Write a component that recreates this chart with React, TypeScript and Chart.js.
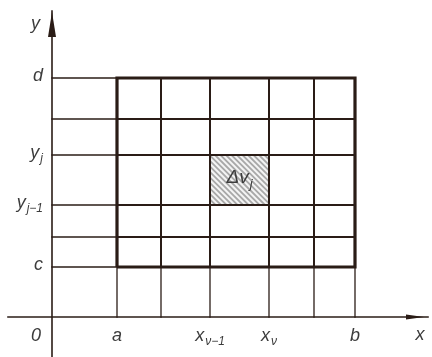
import React, { useEffect, useRef } from "react";
import { Chart, registerables } from "chart.js";

Chart.register(...registerables);

// grid positions (data units): a ... b and c ... d
const xGrid = [6.5, 10.9, 15.8, 21.7, 26.2, 30.3];
const yGrid = [5.0, 8.0, 11.2, 16.2, 19.8, 23.9];
// axis extents
const xAxisExtent = [-4.4, 37.6];
const yAxisExtent = [-4.0, 30.6];
// view window
const xView = [-5.2, 38.0];
const yView = [-4.0, 31.7];
// tick labels: [value, main, subscript]
const xTickValues = [0, xGrid[0], xGrid[2], xGrid[3], xGrid[5]];
const xTickMain = ["0", "a", "x", "x", "b"];
const xTickSub = ["", "", "ν−1", "ν", ""];
const yTickValues = [yGrid[5], yGrid[3], yGrid[2], yGrid[0]];
const yTickMain = ["d", "y", "y", "c"];
const yTickSub = ["", "j", "j−1", ""];
// hatched cell indices (between grid lines)
const cellX = [2, 3];
const cellY = [2, 3];
const cellMain = "Δv";
const cellSub = "j";

const INK = "#2a1c16";
const TEXT = "#3c3c3c";

function seg(x1: number, y1: number, x2: number, y2: number, w: number) {
  return {
    data: [
      { x: x1, y: y1 },
      { x: x2, y: y2 },
    ],
    showLine: true,
    borderColor: INK,
    borderWidth: w,
    pointRadius: 0,
    borderCapStyle: "square" as const,
  };
}

function drawLabel(ctx: CanvasRenderingContext2D, main: string, sub: string, x: number, y: number, align: "center" | "right", size = 18) {
  const mainFont = `italic ${size}px "Liberation Sans", "DejaVu Sans", sans-serif`;
  const subFont = `italic ${Math.round(size * 0.67)}px "Liberation Sans", "DejaVu Sans", sans-serif`;
  ctx.font = mainFont;
  const mw = ctx.measureText(main).width;
  ctx.font = subFont;
  const sw = sub ? ctx.measureText(sub).width + 1 : 0;
  const total = mw + sw;
  const left = align === "center" ? x - total / 2 : x - total;
  ctx.fillStyle = TEXT;
  ctx.textBaseline = "middle";
  ctx.textAlign = "left";
  ctx.font = mainFont;
  ctx.fillText(main, left, y);
  if (sub) {
    ctx.font = subFont;
    ctx.fillText(sub, left + mw + 1, y + 6);
  }
}

const diagramPlugin = {
  id: "diagram",
  beforeDatasetsDraw(chart: any) {
    const ctx: CanvasRenderingContext2D = chart.ctx;
    const xs = chart.scales.x;
    const ys = chart.scales.y;
    const l = xs.getPixelForValue(xGrid[cellX[0]]);
    const r = xs.getPixelForValue(xGrid[cellX[1]]);
    const t = ys.getPixelForValue(yGrid[cellY[1]]);
    const b = ys.getPixelForValue(yGrid[cellY[0]]);
    ctx.save();
    ctx.beginPath();
    ctx.rect(l, t, r - l, b - t);
    ctx.clip();
    ctx.fillStyle = "#f4f4f4";
    ctx.fillRect(l, t, r - l, b - t);
    ctx.strokeStyle = "#a8a8a8";
    ctx.lineWidth = 1.8;
    const h = b - t;
    for (let k = -h; k < r - l + h; k += 5.5) {
      ctx.beginPath();
      ctx.moveTo(l + k, t);
      ctx.lineTo(l + k + h, b);
      ctx.stroke();
    }
    ctx.restore();
  },
  afterDatasetsDraw(chart: any) {
    const ctx: CanvasRenderingContext2D = chart.ctx;
    const xs = chart.scales.x;
    const ys = chart.scales.y;
    ctx.save();
    // arrows
    const x0 = xs.getPixelForValue(0);
    const y0 = ys.getPixelForValue(0);
    const yTop = ys.getPixelForValue(yAxisExtent[1]);
    const xRight = xs.getPixelForValue(xAxisExtent[1]);
    ctx.fillStyle = INK;
    ctx.beginPath();
    ctx.moveTo(x0, yTop + 1);
    ctx.lineTo(x0 - 4, yTop + 26);
    ctx.lineTo(x0 + 4, yTop + 26);
    ctx.closePath();
    ctx.fill();
    ctx.beginPath();
    ctx.moveTo(xRight - 4, y0);
    ctx.lineTo(xRight - 22, y0 - 2.5);
    ctx.lineTo(xRight - 22, y0 + 2.5);
    ctx.closePath();
    ctx.fill();
    // axis names
    drawLabel(ctx, "y", "", x0 - 12, yTop + 13, "right");
    drawLabel(ctx, "x", "", xRight - 8, y0 + 18, "center");
    // x tick labels
    for (let i = 0; i < xTickValues.length; i++) {
      const px = xs.getPixelForValue(xTickValues[i]);
      drawLabel(ctx, xTickMain[i], xTickSub[i], i === 0 ? px - 16 : px, y0 + 19, "center");
    }
    // y tick labels
    for (let i = 0; i < yTickValues.length; i++) {
      const py = ys.getPixelForValue(yTickValues[i]);
      drawLabel(ctx, yTickMain[i], yTickSub[i], x0 - 9, py - 2, "right");
    }
    // cell label
    const cx = (xs.getPixelForValue(xGrid[cellX[0]]) + xs.getPixelForValue(xGrid[cellX[1]])) / 2;
    const cy = (ys.getPixelForValue(yGrid[cellY[0]]) + ys.getPixelForValue(yGrid[cellY[1]])) / 2;
    drawLabel(ctx, cellMain, cellSub, cx, cy - 2, "center", 19);
    ctx.restore();
  },
};

export default function App() {
  const ref = useRef<HTMLCanvasElement | null>(null);
  useEffect(() => {
    if (!ref.current) return;
    const a = xGrid[0];
    const b = xGrid[xGrid.length - 1];
    const c = yGrid[0];
    const d = yGrid[yGrid.length - 1];
    const datasets: any[] = [];
    // thin lines outside the rectangle
    for (const y of yGrid) datasets.push(seg(0, y, a, y, 1.3));
    for (const x of xGrid) datasets.push(seg(x, 0, x, c, 1.3));
    // medium inner lines
    for (const y of yGrid.slice(1, -1)) datasets.push(seg(a, y, b, y, 2));
    for (const x of xGrid.slice(1, -1)) datasets.push(seg(x, c, x, d, 2));
    // thick border
    datasets.push({
      data: [
        { x: a, y: c },
        { x: b, y: c },
        { x: b, y: d },
        { x: a, y: d },
        { x: a, y: c },
      ],
      showLine: true,
      borderColor: INK,
      borderWidth: 3.2,
      pointRadius: 0,
      borderJoinStyle: "miter",
    });
    // axes
    datasets.push(seg(xAxisExtent[0], 0, xAxisExtent[1], 0, 1.6));
    datasets.push(seg(0, yAxisExtent[0], 0, yAxisExtent[1], 1.6));

    const chart = new Chart(ref.current, {
      type: "scatter",
      data: { datasets },
      options: {
        responsive: false,
        animation: false,
        layout: { padding: 0 },
        plugins: { legend: { display: false }, tooltip: { enabled: false } },
        scales: {
          x: { type: "linear", min: xView[0], max: xView[1], display: false },
          y: { type: "linear", min: yView[0], max: yView[1], display: false },
        },
      },
      plugins: [diagramPlugin],
    });
    return () => chart.destroy();
  }, []);
  return (
    <div style={{ position: "fixed", left: 0, top: 0, width: 432, height: 357, background: "#fff" }}>
      <canvas ref={ref} width={432} height={357} />
    </div>
  );
}
